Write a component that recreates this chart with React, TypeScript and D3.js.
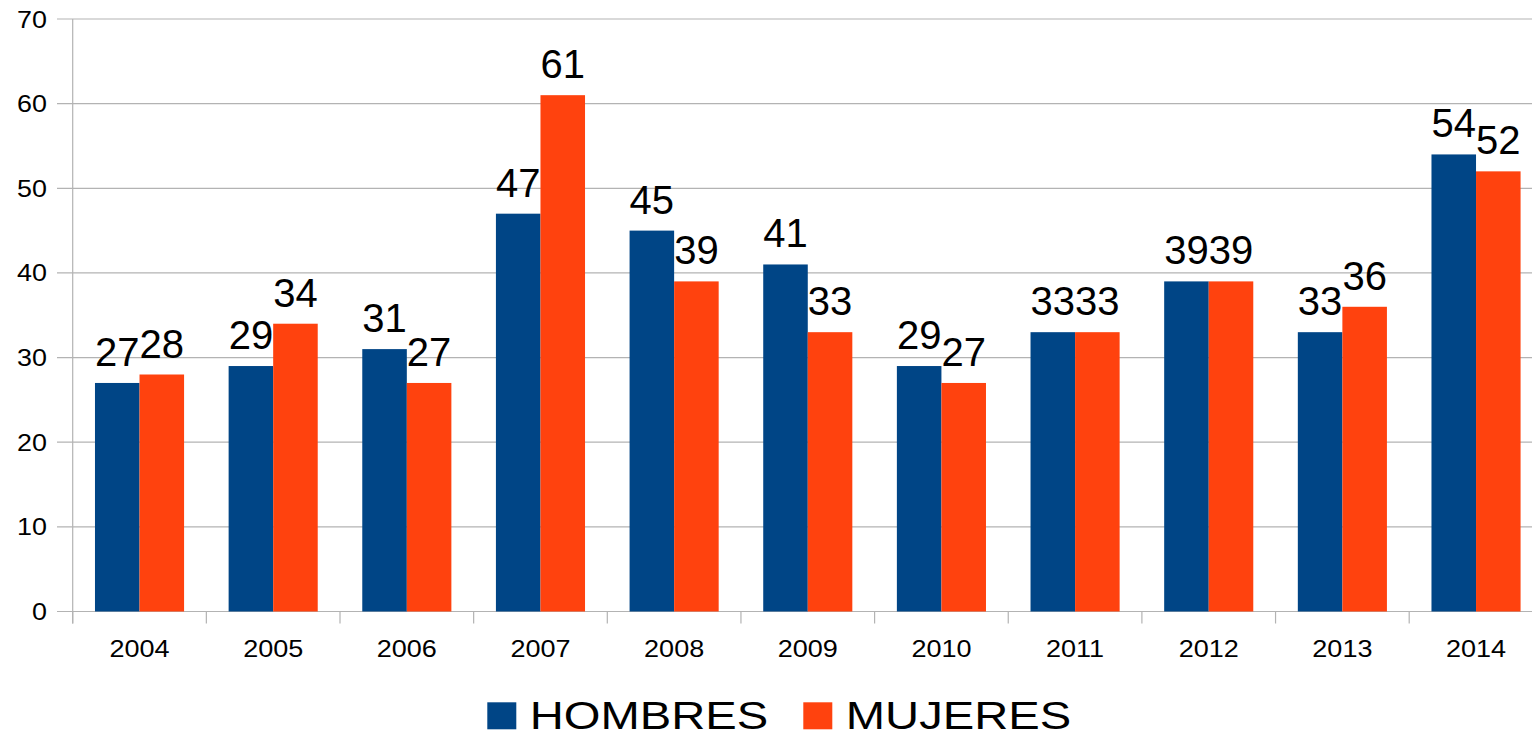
import React from "react";
import * as d3 from "d3";

const categories = ["2004","2005","2006","2007","2008","2009","2010","2011","2012","2013","2014"];
const hombres = [27,29,31,47,45,41,29,33,39,33,54];
const mujeres = [28,34,27,61,39,33,27,33,39,36,52];
const yTicks = [0,10,20,30,40,50,60,70];
const seriesNames = ["HOMBRES","MUJERES"];
const colors = ["#004586","#ff420e"];

const W = 1532, H = 734;
const left = 72.7, band = 133.65, top = 19, bottom = 611.5;
const FONT = "'Liberation Sans', Arial, sans-serif";

export default function App() {
  const x = d3.scaleBand<string>().domain(categories).range([left, left + band * categories.length]).paddingInner(0).paddingOuter(0);
  const y = d3.scaleLinear().domain([0, 70]).range([bottom, top]);
  const bw = x.bandwidth() / 3;
  const series = [hombres, mujeres];
  return (
    <svg width={W} height={H} style={{ position: "fixed", left: 0, top: 0, background: "#fff" }}>
      <rect width={W} height={H} fill="#fff" />
      {yTicks.map((t) => (
        <g key={t}>
          <line x1={57} x2={W} y1={y(t)} y2={y(t)} stroke="#b3b3b3" strokeWidth={1.2} />
          <text transform={`translate(47,${y(t) + 8.5}) scale(1.12,1)`} textAnchor="end" fontFamily={FONT} fontSize={24} fill="#000">{t}</text>
        </g>
      ))}
      <line x1={left} x2={left} y1={top} y2={bottom + 12} stroke="#b3b3b3" strokeWidth={1.2} />
      {categories.map((c) => (
        <line key={"t" + c} x1={x(c)!} x2={x(c)!} y1={bottom} y2={bottom + 12} stroke="#b3b3b3" strokeWidth={1.2} />
      ))}
      {series.map((vals, s) =>
        categories.map((c, i) => {
          const bx = x(c)! + bw / 2 + s * bw;
          return (
            <g key={s + c}>
              <rect x={bx} y={y(vals[i])} width={bw} height={bottom - y(vals[i])} fill={colors[s]} />
              <text x={bx + bw / 2} y={y(vals[i]) - 17} textAnchor="middle" fontFamily={FONT} fontSize={40} fill="#000">{vals[i]}</text>
            </g>
          );
        })
      )}
      {categories.map((c) => (
        <text key={"l" + c} transform={`translate(${x(c)! + band / 2},657.3) scale(1.16,1)`} textAnchor="middle" fontFamily={FONT} fontSize={23.3} fill="#000">{c}</text>
      ))}
      {seriesNames.map((n, s) => {
        const lx = [487.3, 803.3][s];
        return (
          <g key={n}>
            <rect x={lx} y={702.3} width={29} height={27} fill={colors[s]} />
            <text transform={`translate(${lx + 42.5},729.3) scale(1.21,1)`} fontFamily={FONT} fontSize={39} fill="#000">{n}</text>
          </g>
        );
      })}
    </svg>
  );
}
